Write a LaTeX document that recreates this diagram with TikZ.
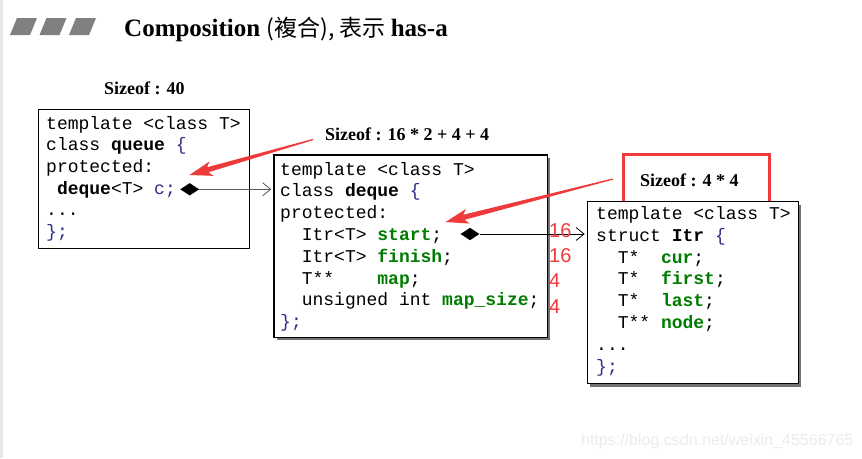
\documentclass[tikz,border=0pt]{standalone}
\usepackage{fontspec}
\setmainfont{Liberation Serif}
\setmonofont{Liberation Mono}
\newfontfamily\wmfont{Liberation Sans}
\newfontfamily\cjkfont{Noto Sans CJK SC}
\usetikzlibrary{shapes.geometric,arrows.meta,calc,shadows}

\definecolor{annot}{RGB}{238,58,58}
\definecolor{fieldgreen}{RGB}{0,125,0}
\definecolor{codeblue}{RGB}{45,45,135}
\definecolor{edgegray}{RGB}{232,232,232}
\definecolor{markgray}{RGB}{128,128,128}
\definecolor{wmgray}{RGB}{236,236,236}

\newcommand{\fld}[1]{\textcolor{fieldgreen}{\textbf{#1}}}
\newcommand{\pn}[1]{\textcolor{codeblue}{#1}}

% tapered red pointer from #1 (tail) to #2 (tip)
\newcommand{\redpointer}[2]{%
  \coordinate (#1-h) at ($(#2)!19pt!(#1)$);
  \coordinate (#1-b) at ($(#2)!23pt!(#1)$);
  \fill[annot]
    ($(#1)!0.6pt!90:(#2)$) --
    ($(#1-h)!2.6pt!90:(#2)$) --
    ($(#1-b)!7.5pt!90:(#2)$) --
    (#2) --
    ($(#1-b)!7.5pt!-90:(#2)$) --
    ($(#1-h)!2.6pt!-90:(#2)$) --
    ($(#1)!0.6pt!-90:(#2)$) -- cycle;}

\tikzset{
  codebox/.style={draw=black, line width=1.2pt, fill=white, inner sep=0pt, anchor=north west},
  boxshadow/.style={drop shadow={shadow xshift=3pt, shadow yshift=-3pt, fill=black!55, opacity=1}},
  code/.style={anchor=base west, inner sep=0pt, font=\ttfamily\fontsize{18}{18}\selectfont},
  sizelabel/.style={anchor=base west, inner sep=0pt, font=\bfseries\fontsize{18}{18}\selectfont},
  countlabel/.style={anchor=base west, inner sep=0pt, text=annot, font=\wmfont\fontsize{20}{20}\selectfont},
  owner/.style={diamond, fill=black, draw=none, inner sep=0pt, minimum width=19pt, minimum height=12.5pt},
  conn/.style={line width=0.9pt, -{Straight Barb[length=8pt, width=13pt, line width=0.8pt]}},
  titlemark/.style={fill=markgray},
  redframe/.style={draw=annot, line width=3pt, inner sep=0pt, anchor=north west},
}

\begin{document}
\begin{tikzpicture}[x=1pt, y=-1pt]
\useasboundingbox (0,0) rectangle (862,458);
\fill[white] (0,0) rectangle (862,458);
\fill[edgegray] (0,0) rectangle (2.5,458);

% title bar marks
\foreach \x in {10,39.5,69}
  \fill[titlemark] (\x,35) -- (\x+20,35) -- (\x+27,18) -- (\x+7,18) -- cycle;
\node[anchor=base west, inner sep=0pt] (title) at (124,36)
  {{\bfseries\fontsize{25}{25}\selectfont Composition }{\cjkfont\fontsize{23}{23}\selectfont (複合), 表示 }{\bfseries\fontsize{25}{25}\selectfont has-a}};

% queue
\node[sizelabel] (szq) at (104,94.5) {Sizeof : 40};
\node[codebox, minimum width=211pt, minimum height=139pt] (queue) at (37.5,108.5) {};
\node[code] (q1) at (46,129) {template <class T>};
\node[code] (q2) at (46,150.7) {class \textbf{queue} \pn{\{}};
\node[code] (q3) at (46,172.4) {protected:};
\node[code] (q4) at (46,194.1) {~\textbf{deque}<T>~\pn{c;}};
\node[code] (q5) at (46,215.8) {...};
\node[code] (q6) at (46,237.5) {\pn{\};}};

% deque
\node[sizelabel] (szd) at (325,140.7) {Sizeof : 16 * 2 + 4 + 4};
\node[codebox, boxshadow, minimum width=273.5pt, minimum height=182.5pt] (deque) at (273.3,154.3) {};
\node[code] (d1) at (280,175) {template <class T>};
\node[code] (d2) at (280,196.8) {class \textbf{deque} \pn{\{}};
\node[code] (d3) at (280,218.6) {protected:};
\node[code] (d4) at (280,240.4) {~~Itr<T>~\fld{start};};
\node[code] (d5) at (280,262.2) {~~Itr<T>~\fld{finish};};
\node[code] (d6) at (280,284) {~~T**~~~~\fld{map};};
\node[code] (d7) at (280,305.8) {~~unsigned~int~\fld{map\_size};};
\node[code] (d8) at (280,327.6) {\pn{\};}};

% Itr
\node[redframe, minimum width=146pt, minimum height=48pt] (szframe) at (622,153) {};
\node[sizelabel] (szi) at (640,186) {Sizeof : 4 * 4};
\node[codebox, boxshadow, minimum width=211pt, minimum height=182pt] (itr) at (586.7,201) {};
\node[code] (i1) at (596,219.5) {template <class T>};
\node[code] (i2) at (596,241.3) {struct \textbf{Itr} \pn{\{}};
\node[code] (i3) at (596,263.1) {~~T*~~\fld{cur};};
\node[code] (i4) at (596,284.9) {~~T*~~\fld{first};};
\node[code] (i5) at (596,306.7) {~~T*~~\fld{last};};
\node[code] (i6) at (596,328.5) {~~T**~\fld{node};};
\node[code] (i7) at (596,350.3) {...};
\node[code] (i8) at (596,372.1) {\pn{\};}};

% composition links
\node[owner] (own1) at (189.7,189.3) {};
\draw[conn, draw=black!65] (own1.east) -- ($(own1.east -| deque.west)+(-2,0)$);
\node[owner] (own2) at (470,234) {};
\draw[conn] (own2.east) -- ($(own2.east -| itr.west)+(-2,0)$);

% member sizes
\node[countlabel] (c1) at (549,237) {16};
\node[countlabel] (c2) at (549,262) {16};
\node[countlabel] (c3) at (549,287) {4};
\node[countlabel] (c4) at (549,313) {4};

% red pointers
\coordinate (pa) at (313,139.5);
\coordinate (pa-tip) at (189.5,175);
\redpointer{pa}{pa-tip}
\coordinate (pb) at (613,179);
\coordinate (pb-tip) at (445.5,222);
\redpointer{pb}{pb-tip}

% watermark
\node[anchor=base west, inner sep=0pt, text=wmgray, font=\wmfont\fontsize{16}{16}\selectfont] (wm) at (581,445) {https://blog.csdn.net/weixin\_45566765};
\end{tikzpicture}
\end{document}
